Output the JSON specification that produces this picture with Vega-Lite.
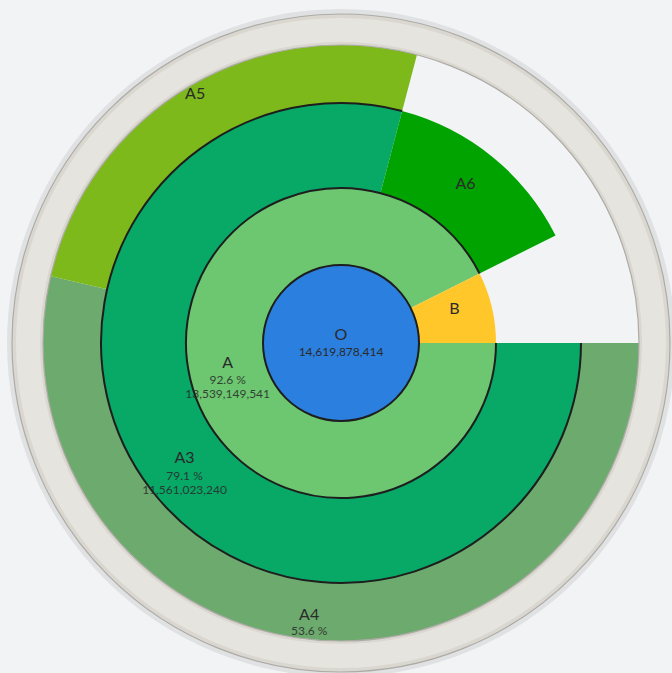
{
  "$schema": "https://vega.github.io/schema/vega-lite/v6.json",
  "width": 672,
  "height": 673,
  "autosize": {"type": "fit", "contains": "padding"},
  "padding": {"left": 10, "top": 13, "right": 0, "bottom": 0},
  "background": "#F2F3F5",
  "config": {"view": {"stroke": null}, "text": {"font": "Lato"}},
  "datasets": {
    "nodes": [
      {"name": "O", "ring": 0, "order": 1, "value": 100, "detail": "14,619,878,414"},
      {"name": "A", "ring": 1, "order": 1, "value": 92.6, "detail": "92.6 %\n13,539,149,541"},
      {"name": "B", "ring": 1, "order": 2, "value": 7.4, "detail": ""},
      {"name": "A3", "ring": 2, "order": 1, "value": 79.1, "detail": "79.1 %\n11,561,023,240"},
      {"name": "A6", "ring": 2, "order": 2, "value": 13.5, "detail": ""},
      {"name": "A4", "ring": 3, "order": 1, "value": 53.6, "detail": "53.6 %"},
      {"name": "A5", "ring": 3, "order": 2, "value": 25.5, "detail": ""}
    ],
    "frame": [{"value": 100}]
  },
  "data": {"name": "nodes"},
  "layer": [
    {
      "transform": [{"filter": "datum.ring === 3"}],
      "mark": {"type": "arc", "radius": 325, "radius2": 240},
      "encoding": {
        "theta": {"field": "value", "type": "quantitative", "stack": true, "scale": {"domain": [0, 100], "range": [1.5708, 7.854]}},
        "order": {"field": "order"},
        "color": {"field": "name", "type": "nominal", "legend": null,
          "scale": {"domain": ["O", "A", "B", "A3", "A6", "A4", "A5"],
                    "range": ["#2B7FDF", "#6CC770", "#FFC72A", "#08A867", "#00A300", "#6DAA6E", "#7DB91B"]}}
      }
    },
    {
      "transform": [{"filter": "datum.ring === 2"}],
      "mark": {"type": "arc", "radius": 240, "radius2": 155},
      "encoding": {
        "theta": {"field": "value", "type": "quantitative", "stack": true},
        "order": {"field": "order"},
        "color": {"field": "name", "type": "nominal", "legend": null}
      }
    },
    {
      "transform": [{"filter": "datum.ring === 1"}],
      "mark": {"type": "arc", "radius": 155, "radius2": 78},
      "encoding": {
        "theta": {"field": "value", "type": "quantitative", "stack": true},
        "order": {"field": "order"},
        "color": {"field": "name", "type": "nominal", "legend": null}
      }
    },
    {
      "transform": [{"filter": "datum.ring === 0"}],
      "mark": {"type": "arc", "radius": 78, "radius2": 0, "stroke": "#1E1E1E", "strokeWidth": 2},
      "encoding": {
        "theta": {"field": "value", "type": "quantitative", "stack": true},
        "order": {"field": "order"},
        "color": {"field": "name", "type": "nominal", "legend": null}
      }
    },
    {
      "transform": [{"filter": "datum.ring === 1"}],
      "mark": {"type": "arc", "radius": 155, "radius2": 155, "fill": null, "stroke": "#1E1E1E", "strokeWidth": 2},
      "encoding": {
        "theta": {"field": "value", "type": "quantitative", "stack": true},
        "order": {"field": "order"},
        "strokeOpacity": {"condition": {"test": "datum.name === 'A'", "value": 1}, "value": 0}
      }
    },
    {
      "transform": [{"filter": "datum.ring === 2"}],
      "mark": {"type": "arc", "radius": 240, "radius2": 240, "fill": null, "stroke": "#1E1E1E", "strokeWidth": 2},
      "encoding": {
        "theta": {"field": "value", "type": "quantitative", "stack": true},
        "order": {"field": "order"},
        "strokeOpacity": {"condition": {"test": "datum.name === 'A3'", "value": 1}, "value": 0}
      }
    },
    {
      "data": {"name": "frame"},
      "mark": {"type": "arc", "radius": 334, "radius2": 327, "fill": "#000000", "fillOpacity": 0.07},
      "encoding": {"theta": {"field": "value", "type": "quantitative", "stack": true}}
    },
    {
      "data": {"name": "frame"},
      "mark": {"type": "arc", "radius": 329, "radius2": 298, "fill": "#DAD7D0", "stroke": "#ADABA6", "strokeWidth": 1.2},
      "encoding": {"theta": {"field": "value", "type": "quantitative", "stack": true}}
    },
    {
      "data": {"name": "frame"},
      "mark": {"type": "arc", "radius": 325, "radius2": 301, "fill": "#E6E4DE"},
      "encoding": {"theta": {"field": "value", "type": "quantitative", "stack": true}}
    },
    {
      "transform": [{"filter": "datum.ring === 0"}],
      "mark": {"type": "text", "radius": 0, "dy": -8, "fontSize": 16, "color": "#2A2A2A"},
      "encoding": {
        "theta": {"field": "value", "type": "quantitative", "stack": true},
        "order": {"field": "order"},
        "text": {"field": "name"}
      }
    },
    {
      "transform": [{"filter": "datum.ring === 0"}],
      "mark": {"type": "text", "radius": 0, "dy": 9, "fontSize": 12, "color": "#2A2A2A"},
      "encoding": {
        "theta": {"field": "value", "type": "quantitative", "stack": true},
        "order": {"field": "order"},
        "text": {"field": "detail"}
      }
    },
    {
      "transform": [{"filter": "datum.ring === 1"}],
      "mark": {"type": "text", "radius": 116.5, "dy": -7, "fontSize": 16, "color": "#2A2A2A"},
      "encoding": {
        "theta": {"field": "value", "type": "quantitative", "stack": true},
        "order": {"field": "order"},
        "text": {"field": "name"}
      }
    },
    {
      "transform": [{"filter": "datum.ring === 1"}],
      "mark": {"type": "text", "radius": 116.5, "dy": 5, "baseline": "top", "lineBreak": "\n", "lineHeight": 14.5, "fontSize": 12, "color": "#2A2A2A", "opacity": 0.85},
      "encoding": {
        "theta": {"field": "value", "type": "quantitative", "stack": true},
        "order": {"field": "order"},
        "text": {"field": "detail"}
      }
    },
    {
      "transform": [{"filter": "datum.ring === 2"}],
      "mark": {"type": "text", "radius": 197.5, "dy": -6, "fontSize": 16, "color": "#2A2A2A"},
      "encoding": {
        "theta": {"field": "value", "type": "quantitative", "stack": true},
        "order": {"field": "order"},
        "text": {"field": "name"}
      }
    },
    {
      "transform": [{"filter": "datum.ring === 2"}],
      "mark": {"type": "text", "radius": 197.5, "dy": 7, "baseline": "top", "lineBreak": "\n", "lineHeight": 14.5, "fontSize": 12, "color": "#2A2A2A", "opacity": 0.85},
      "encoding": {
        "theta": {"field": "value", "type": "quantitative", "stack": true},
        "order": {"field": "order"},
        "text": {"field": "detail"}
      }
    },
    {
      "transform": [{"filter": "datum.ring === 3"}],
      "mark": {"type": "text", "radius": 282, "dy": -8, "fontSize": 16, "color": "#2A2A2A"},
      "encoding": {
        "theta": {"field": "value", "type": "quantitative", "stack": true},
        "order": {"field": "order"},
        "text": {"field": "name"}
      }
    },
    {
      "transform": [{"filter": "datum.ring === 3"}],
      "mark": {"type": "text", "radius": 282, "dy": 3, "baseline": "top", "lineBreak": "\n", "lineHeight": 14.5, "fontSize": 12, "color": "#2A2A2A", "opacity": 0.85},
      "encoding": {
        "theta": {"field": "value", "type": "quantitative", "stack": true},
        "order": {"field": "order"},
        "text": {"field": "detail"}
      }
    }
  ]
}
